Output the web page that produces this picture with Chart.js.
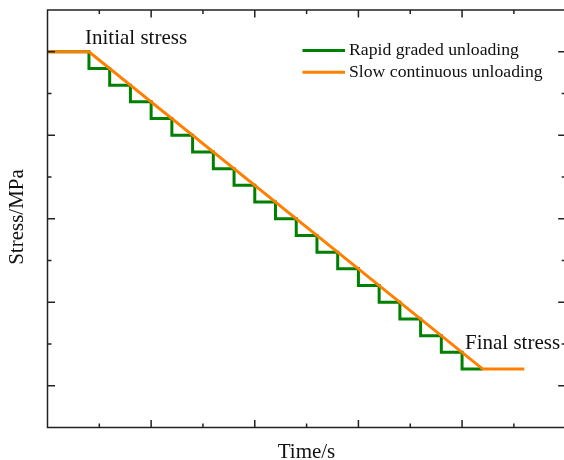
<!DOCTYPE html>
<html>
<head>
<meta charset="utf-8">
<script src="https://cdn.jsdelivr.net/npm/chart.js@4"></script>
<style>
  html, body { margin: 0; padding: 0; background: #fff; overflow: hidden; }
  #wrap { width: 570px; height: 460px; }
</style>
</head>
<body>
<div id="wrap"><canvas id="myChart" width="570" height="460"></canvas></div>
<script>
// data
const rapidX = [0, 0.8, 1.2, 1.6, 2.0, 2.4, 2.8, 3.2, 3.6, 4.0, 4.4, 4.8, 5.2, 5.6, 6.0, 6.4, 6.8, 7.2, 7.6, 8.0, 8.4];
const rapidY = [9, 8.6, 8.2, 7.8, 7.4, 7.0, 6.6, 6.2, 5.8, 5.4, 5.0, 4.6, 4.2, 3.8, 3.4, 3.0, 2.6, 2.2, 1.8, 1.4, 1.4];
const slowX = [0, 0.8, 8.4, 9.2];
const slowY = [9, 9, 1.4, 1.4];
const xTicks = [1, 2, 3, 4, 5, 6, 7, 8, 9];
const xMajor = [2, 4, 6, 8];
const yTicks = [1, 2, 3, 4, 5, 6, 7, 8, 9];
const yMajor = [1, 3, 5, 7, 9];
const seriesNames = ['Rapid graded unloading', 'Slow continuous unloading'];
const colores = ['#008000', '#FF8000'];

function puntos(xs, ys) {
  return xs.map((x, i) => ({ x: x, y: ys[i] }));
}

const marco = {
  id: 'marco',
  afterDraw(chart) {
    const ctx = chart.ctx;
    const a = chart.chartArea;
    const sx = chart.scales.x, sy = chart.scales.y;
    ctx.save();
    ctx.strokeStyle = '#222';
    ctx.lineWidth = 1.5;
    // frame (right side falls off the page in the original)
    ctx.beginPath();
    ctx.moveTo(a.right + 2, a.top); ctx.lineTo(a.left, a.top);
    ctx.lineTo(a.left, a.bottom); ctx.lineTo(a.right + 2, a.bottom);
    ctx.stroke();
    ctx.beginPath();
    xTicks.forEach(v => {
      let px = sx.getPixelForValue(v);
      let len = xMajor.includes(v) ? 7.5 : 4;
      ctx.moveTo(px, a.bottom); ctx.lineTo(px, a.bottom - len);
      ctx.moveTo(px, a.top); ctx.lineTo(px, a.top + len);
    });
    yTicks.forEach(v => {
      let py = sy.getPixelForValue(v);
      let len = yMajor.includes(v) ? 7.5 : 4;
      ctx.moveTo(a.left, py); ctx.lineTo(a.left + len, py);
      ctx.moveTo(a.right, py); ctx.lineTo(a.right - len, py);
    });
    ctx.stroke();

    // axis titles
    ctx.fillStyle = '#111';
    ctx.font = '21px "Liberation Serif", "Times New Roman", serif';
    ctx.textAlign = 'center';
    ctx.textBaseline = 'alphabetic';
    ctx.fillText('Time/s', 306.5, 457.5);
    ctx.save();
    ctx.translate(22.5, 217);
    ctx.rotate(-Math.PI / 2);
    ctx.fillText('Stress/MPa', 0, 0);
    ctx.restore();

    // annotations
    ctx.textAlign = 'left';
    ctx.fillText('Initial stress', 85, 43.5);
    ctx.fillText('Final stress', 465, 348.5);

    // legend
    ctx.font = '17.7px "Liberation Serif", "Times New Roman", serif';
    ctx.textBaseline = 'middle';
    seriesNames.forEach((n, i) => {
      let y = 50.5 + i * 21.7;
      ctx.strokeStyle = colores[i];
      ctx.lineWidth = 3;
      ctx.beginPath();
      ctx.moveTo(302.5, y); ctx.lineTo(345, y);
      ctx.stroke();
      ctx.fillText(n, 349, y);
    });
    ctx.restore();
  }
};

const chart = new Chart(document.getElementById('myChart').getContext('2d'), {
  type: 'line',
  data: {
    datasets: [
      {
        label: seriesNames[1],
        data: puntos(slowX, slowY),
        borderColor: colores[1],
        borderWidth: 3,
        pointRadius: 0,
        tension: 0,
        fill: false,
        order: 0
      },
      {
        label: seriesNames[0],
        data: puntos(rapidX, rapidY),
        borderColor: colores[0],
        borderWidth: 3,
        pointRadius: 0,
        stepped: 'before',
        fill: false,
        order: 1
      }
    ]
  },
  options: {
    responsive: false,
    animation: false,
    layout: { padding: { left: 47.5, right: 4.3, top: 10, bottom: 32.5 } },
    plugins: { legend: { display: false }, tooltip: { enabled: false } },
    scales: {
      x: { type: 'linear', min: 0, max: 10, display: false },
      y: { type: 'linear', min: 0, max: 10, display: false }
    }
  },
  plugins: [marco]
});
</script>
</body>
</html>
